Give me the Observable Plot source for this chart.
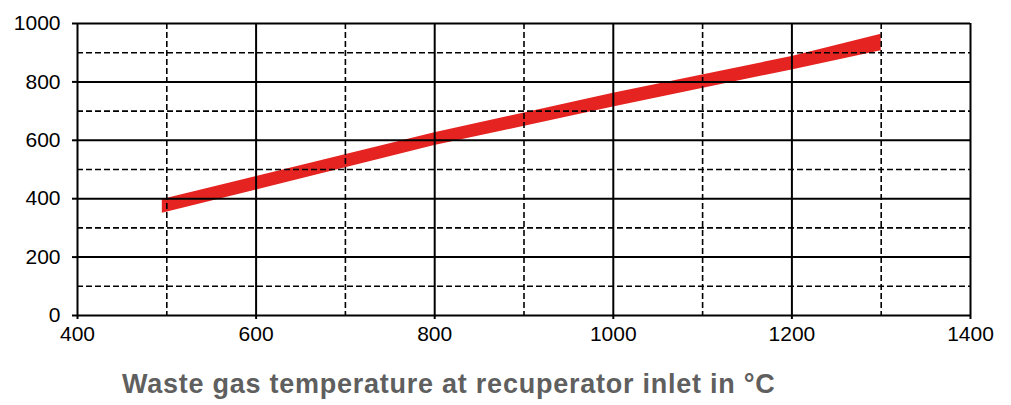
<!DOCTYPE html>
<html>
<head>
<meta charset="utf-8">
<script src="https://cdn.jsdelivr.net/npm/d3@7"></script>
<script src="https://cdn.jsdelivr.net/npm/@observablehq/plot@0.6"></script>
<style>
  body { margin: 0; background: #fff; }
  #caption {
    font-family: "Liberation Sans", Arial, sans-serif;
    font-size: 27px;
    font-weight: bold;
    letter-spacing: 0.75px;
    line-height: 30px;
    color: #5f5f5f;
    padding-left: 122px;
    padding-top: 24px;
    white-space: nowrap;
  }
</style>
</head>
<body>
<div id="chart"></div>
<div id="caption">Waste gas temperature at recuperator inlet in °C</div>
<script>
const xMajor = [400, 600, 800, 1000, 1200, 1400];
const xMinor = [500, 700, 900, 1100, 1300];
const yMajor = [0, 200, 400, 600, 800, 1000];
const yMinor = [100, 300, 500, 700, 900];

const bandX    = [495, 800, 1000, 1200, 1300];
const bandLow  = [350, 582, 714, 841, 907];
const bandHigh = [397, 626, 761, 887, 963];

const band = bandX.map((x, i) => ({x, lo: bandLow[i], hi: bandHigh[i]}));

const chart = Plot.plot({
  width: 1011,
  height: 345,
  marginLeft: 77,
  marginRight: 41,
  marginTop: 23,
  marginBottom: 30,
  x: {domain: [400, 1400]},
  y: {domain: [0, 1000]},
  style: {fontFamily: "Liberation Sans, Arial, sans-serif", fontSize: "21px", color: "#000", background: "#fff"},
  marks: [
    Plot.areaY(band, {x: "x", y1: "lo", y2: "hi", fill: "#e52421"}),
    Plot.ruleX(xMinor, {stroke: "#000", strokeWidth: 1.6, strokeDasharray: "6,3"}),
    Plot.ruleY(yMinor, {stroke: "#000", strokeWidth: 1.6, strokeDasharray: "6,3"}),
    Plot.ruleX(xMajor, {stroke: "#000", strokeWidth: 2}),
    Plot.ruleY(yMajor, {stroke: "#000", strokeWidth: 2}),
    Plot.axisX({ticks: xMajor, tickSize: 4, tickPadding: 7, strokeWidth: 2, tickFormat: d => String(d), label: null}),
    Plot.axisY({ticks: yMajor, tickSize: 5, tickPadding: 12, strokeWidth: 2, tickFormat: d => String(d), label: null})
  ]
});
document.getElementById("chart").appendChild(chart);
</script>
</body>
</html>
